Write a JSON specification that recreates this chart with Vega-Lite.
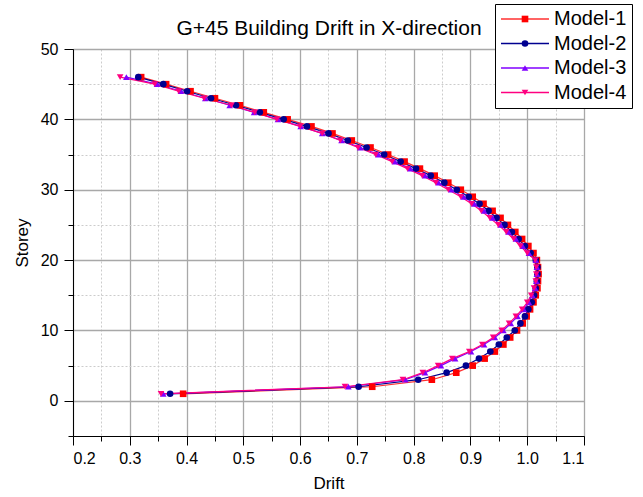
{
  "$schema": "https://vega.github.io/schema/vega-lite/v6.json",
  "autosize": "none",
  "padding": {"left": 73, "top": 49, "right": 59, "bottom": 61},
  "width": 511,
  "height": 387,
  "background": "white",
  "config": {
    "font": "Liberation Sans",
    "view": {"stroke": "black", "strokeWidth": 1},
    "axis": {"domainColor": "black", "tickColor": "black", "labelColor": "black", "titleColor": "black", "labelFontWeight": "normal", "titleFontWeight": "normal"}
  },
  "data": {"values": [
    {"m":"Model-1","s":1,"d":0.394},{"m":"Model-1","s":2,"d":0.727},{"m":"Model-1","s":3,"d":0.832},{"m":"Model-1","s":4,"d":0.875},{"m":"Model-1","s":5,"d":0.904},{"m":"Model-1","s":6,"d":0.925},{"m":"Model-1","s":7,"d":0.943},{"m":"Model-1","s":8,"d":0.958},{"m":"Model-1","s":9,"d":0.970},{"m":"Model-1","s":10,"d":0.982},{"m":"Model-1","s":11,"d":0.992},{"m":"Model-1","s":12,"d":0.999},{"m":"Model-1","s":13,"d":1.005},{"m":"Model-1","s":14,"d":1.011},{"m":"Model-1","s":15,"d":1.015},{"m":"Model-1","s":16,"d":1.018},{"m":"Model-1","s":17,"d":1.019},{"m":"Model-1","s":18,"d":1.020},{"m":"Model-1","s":19,"d":1.019},{"m":"Model-1","s":20,"d":1.017},{"m":"Model-1","s":21,"d":1.011},{"m":"Model-1","s":22,"d":1.002},{"m":"Model-1","s":23,"d":0.991},{"m":"Model-1","s":24,"d":0.979},{"m":"Model-1","s":25,"d":0.966},{"m":"Model-1","s":26,"d":0.953},{"m":"Model-1","s":27,"d":0.939},{"m":"Model-1","s":28,"d":0.923},{"m":"Model-1","s":29,"d":0.904},{"m":"Model-1","s":30,"d":0.883},{"m":"Model-1","s":31,"d":0.861},{"m":"Model-1","s":32,"d":0.837},{"m":"Model-1","s":33,"d":0.811},{"m":"Model-1","s":34,"d":0.784},{"m":"Model-1","s":35,"d":0.755},{"m":"Model-1","s":36,"d":0.724},{"m":"Model-1","s":37,"d":0.691},{"m":"Model-1","s":38,"d":0.657},{"m":"Model-1","s":39,"d":0.620},{"m":"Model-1","s":40,"d":0.578},{"m":"Model-1","s":41,"d":0.536},{"m":"Model-1","s":42,"d":0.494},{"m":"Model-1","s":43,"d":0.450},{"m":"Model-1","s":44,"d":0.407},{"m":"Model-1","s":45,"d":0.364},{"m":"Model-1","s":46,"d":0.320},
    {"m":"Model-2","s":1,"d":0.371},{"m":"Model-2","s":2,"d":0.703},{"m":"Model-2","s":3,"d":0.808},{"m":"Model-2","s":4,"d":0.858},{"m":"Model-2","s":5,"d":0.892},{"m":"Model-2","s":6,"d":0.915},{"m":"Model-2","s":7,"d":0.935},{"m":"Model-2","s":8,"d":0.950},{"m":"Model-2","s":9,"d":0.964},{"m":"Model-2","s":10,"d":0.978},{"m":"Model-2","s":11,"d":0.988},{"m":"Model-2","s":12,"d":0.996},{"m":"Model-2","s":13,"d":1.002},{"m":"Model-2","s":14,"d":1.008},{"m":"Model-2","s":15,"d":1.012},{"m":"Model-2","s":16,"d":1.015},{"m":"Model-2","s":17,"d":1.017},{"m":"Model-2","s":18,"d":1.018},{"m":"Model-2","s":19,"d":1.018},{"m":"Model-2","s":20,"d":1.015},{"m":"Model-2","s":21,"d":1.006},{"m":"Model-2","s":22,"d":0.996},{"m":"Model-2","s":23,"d":0.985},{"m":"Model-2","s":24,"d":0.973},{"m":"Model-2","s":25,"d":0.960},{"m":"Model-2","s":26,"d":0.946},{"m":"Model-2","s":27,"d":0.932},{"m":"Model-2","s":28,"d":0.916},{"m":"Model-2","s":29,"d":0.897},{"m":"Model-2","s":30,"d":0.876},{"m":"Model-2","s":31,"d":0.854},{"m":"Model-2","s":32,"d":0.830},{"m":"Model-2","s":33,"d":0.804},{"m":"Model-2","s":34,"d":0.777},{"m":"Model-2","s":35,"d":0.748},{"m":"Model-2","s":36,"d":0.717},{"m":"Model-2","s":37,"d":0.684},{"m":"Model-2","s":38,"d":0.650},{"m":"Model-2","s":39,"d":0.612},{"m":"Model-2","s":40,"d":0.571},{"m":"Model-2","s":41,"d":0.529},{"m":"Model-2","s":42,"d":0.487},{"m":"Model-2","s":43,"d":0.443},{"m":"Model-2","s":44,"d":0.401},{"m":"Model-2","s":45,"d":0.359},{"m":"Model-2","s":46,"d":0.315},
    {"m":"Model-3","s":1,"d":0.359},{"m":"Model-3","s":2,"d":0.685},{"m":"Model-3","s":3,"d":0.785},{"m":"Model-3","s":4,"d":0.820},{"m":"Model-3","s":5,"d":0.848},{"m":"Model-3","s":6,"d":0.873},{"m":"Model-3","s":7,"d":0.901},{"m":"Model-3","s":8,"d":0.924},{"m":"Model-3","s":9,"d":0.943},{"m":"Model-3","s":10,"d":0.958},{"m":"Model-3","s":11,"d":0.971},{"m":"Model-3","s":12,"d":0.983},{"m":"Model-3","s":13,"d":0.994},{"m":"Model-3","s":14,"d":1.003},{"m":"Model-3","s":15,"d":1.009},{"m":"Model-3","s":16,"d":1.014},{"m":"Model-3","s":17,"d":1.016},{"m":"Model-3","s":18,"d":1.017},{"m":"Model-3","s":19,"d":1.017},{"m":"Model-3","s":20,"d":1.015},{"m":"Model-3","s":21,"d":1.003},{"m":"Model-3","s":22,"d":0.992},{"m":"Model-3","s":23,"d":0.980},{"m":"Model-3","s":24,"d":0.967},{"m":"Model-3","s":25,"d":0.953},{"m":"Model-3","s":26,"d":0.939},{"m":"Model-3","s":27,"d":0.924},{"m":"Model-3","s":28,"d":0.907},{"m":"Model-3","s":29,"d":0.888},{"m":"Model-3","s":30,"d":0.866},{"m":"Model-3","s":31,"d":0.844},{"m":"Model-3","s":32,"d":0.820},{"m":"Model-3","s":33,"d":0.794},{"m":"Model-3","s":34,"d":0.767},{"m":"Model-3","s":35,"d":0.738},{"m":"Model-3","s":36,"d":0.706},{"m":"Model-3","s":37,"d":0.673},{"m":"Model-3","s":38,"d":0.639},{"m":"Model-3","s":39,"d":0.601},{"m":"Model-3","s":40,"d":0.561},{"m":"Model-3","s":41,"d":0.519},{"m":"Model-3","s":42,"d":0.476},{"m":"Model-3","s":43,"d":0.433},{"m":"Model-3","s":44,"d":0.390},{"m":"Model-3","s":45,"d":0.348},{"m":"Model-3","s":46,"d":0.294},
    {"m":"Model-4","s":1,"d":0.355},{"m":"Model-4","s":2,"d":0.679},{"m":"Model-4","s":3,"d":0.781},{"m":"Model-4","s":4,"d":0.816},{"m":"Model-4","s":5,"d":0.843},{"m":"Model-4","s":6,"d":0.868},{"m":"Model-4","s":7,"d":0.898},{"m":"Model-4","s":8,"d":0.921},{"m":"Model-4","s":9,"d":0.940},{"m":"Model-4","s":10,"d":0.955},{"m":"Model-4","s":11,"d":0.968},{"m":"Model-4","s":12,"d":0.980},{"m":"Model-4","s":13,"d":0.991},{"m":"Model-4","s":14,"d":1.000},{"m":"Model-4","s":15,"d":1.007},{"m":"Model-4","s":16,"d":1.012},{"m":"Model-4","s":17,"d":1.015},{"m":"Model-4","s":18,"d":1.016},{"m":"Model-4","s":19,"d":1.016},{"m":"Model-4","s":20,"d":1.014},{"m":"Model-4","s":21,"d":1.000},{"m":"Model-4","s":22,"d":0.988},{"m":"Model-4","s":23,"d":0.976},{"m":"Model-4","s":24,"d":0.963},{"m":"Model-4","s":25,"d":0.949},{"m":"Model-4","s":26,"d":0.934},{"m":"Model-4","s":27,"d":0.919},{"m":"Model-4","s":28,"d":0.902},{"m":"Model-4","s":29,"d":0.883},{"m":"Model-4","s":30,"d":0.861},{"m":"Model-4","s":31,"d":0.839},{"m":"Model-4","s":32,"d":0.815},{"m":"Model-4","s":33,"d":0.789},{"m":"Model-4","s":34,"d":0.762},{"m":"Model-4","s":35,"d":0.733},{"m":"Model-4","s":36,"d":0.702},{"m":"Model-4","s":37,"d":0.671},{"m":"Model-4","s":38,"d":0.639},{"m":"Model-4","s":39,"d":0.600},{"m":"Model-4","s":40,"d":0.559},{"m":"Model-4","s":41,"d":0.520},{"m":"Model-4","s":42,"d":0.479},{"m":"Model-4","s":43,"d":0.431},{"m":"Model-4","s":44,"d":0.386},{"m":"Model-4","s":45,"d":0.344},{"m":"Model-4","s":46,"d":0.283}
  ]},
  "encoding": {
    "x": {"field": "d", "type": "quantitative",
      "scale": {"domain": [0.2, 1.1], "nice": false, "zero": false},
      "axis": {"orient": "bottom", "title": "Drift", "titleFontSize": 17, "titlePadding": 9, "labelFontSize": 16, "labelPadding": 5,
        "values": [0.2,0.25,0.3,0.35,0.4,0.45,0.5,0.55,0.6,0.65,0.7,0.75,0.8,0.85,0.9,0.95,1.0,1.05,1.1],
        "labelExpr": "abs(datum.value*10 - round(datum.value*10)) < 0.01 ? format(datum.value, '.1f') : ''",
        "grid": true,
        "gridColor": {"condition": {"test": "abs(datum.value*10 - round(datum.value*10)) > 0.01", "value": "#cccccc"}, "value": "#a8a8a8"},
        "gridDash": {"condition": {"test": "abs(datum.value*10 - round(datum.value*10)) > 0.01", "value": [2, 2]}, "value": []},
        "gridWidth": {"condition": {"test": "abs(datum.value*10 - round(datum.value*10)) > 0.01", "value": 1}, "value": 1.3},
        "tickSize": {"condition": {"test": "abs(datum.value*10 - round(datum.value*10)) > 0.01", "value": 5}, "value": 9}
      }},
    "y": {"field": "s", "type": "quantitative",
      "scale": {"domain": [-5, 50], "nice": false, "zero": false},
      "axis": {"title": "Storey", "titleFontSize": 17, "titlePadding": 9, "labelFontSize": 16, "labelPadding": 6,
        "values": [-5,0,5,10,15,20,25,30,35,40,45,50],
        "labelExpr": "datum.value % 10 === 0 ? datum.label : ''",
        "grid": true,
        "gridColor": {"condition": {"test": "datum.value % 10 !== 0", "value": "#cccccc"}, "value": "#a8a8a8"},
        "gridDash": {"condition": {"test": "datum.value % 10 !== 0", "value": [2, 2]}, "value": []},
        "gridWidth": {"condition": {"test": "datum.value % 10 !== 0", "value": 1}, "value": 1.3},
        "tickSize": {"condition": {"test": "datum.value % 10 !== 0", "value": 5}, "value": 9}
      }}
  },
  "layer": [
    {"mark": {"type": "line", "strokeWidth": 1.2},
     "encoding": {
       "order": {"field": "s", "type": "quantitative"},
       "color": {"field": "m", "type": "nominal",
         "scale": {"range": ["#ff3030", "#000090", "#8000ff", "#ff0080"]},
         "legend": {"title": null, "orient": "none", "legendX": 422, "legendY": -45,
           "strokeColor": "black", "fillColor": "white", "padding": 5,
           "labelFontSize": 20, "labelColor": "black", "labelOffset": 4,
           "symbolType": "stroke", "symbolSize": 2304, "symbolStrokeWidth": 1.5,
           "clipHeight": 20, "rowPadding": 4.5}}}},
    {"mark": {"type": "point", "filled": true, "opacity": 1, "strokeWidth": 0, "size": 44},
     "encoding": {
       "x": {"field": "d", "type": "quantitative",
         "scale": {"domain": [0.2, 1.1], "nice": false, "zero": false},
         "axis": {"orient": "top", "title": "G+45 Building Drift in X-direction", "titleFontSize": 21, "titleFontWeight": "normal", "titlePadding": 11,
           "labels": false, "ticks": false, "domain": false, "grid": false}},
       "fill": {"field": "m", "type": "nominal",
         "scale": {"domain": ["Model-1", "Model-2", "Model-3", "Model-4"], "range": ["#ff0000", "#000090", "#8000ff", "#ff0080"]},
         "legend": {"title": null, "orient": "none", "legendX": 422, "legendY": -45,
           "padding": 5, "labelFontSize": 20, "labelOpacity": 0, "labelExpr": "' '", "labelOffset": 4,
           "symbolSize": 44, "symbolOffset": 15, "symbolOpacity": 1, "symbolStrokeWidth": 0, "rowPadding": 4.5}},
       "shape": {"field": "m", "type": "nominal",
         "scale": {"domain": ["Model-1", "Model-2", "Model-3", "Model-4"], "range": ["square", "circle", "triangle-up", "triangle-down"]},
         "legend": {"title": null, "orient": "none", "legendX": 422, "legendY": -45,
           "padding": 5, "labelFontSize": 20, "labelOpacity": 0, "labelExpr": "' '", "labelOffset": 4,
           "symbolSize": 44, "symbolOffset": 15, "symbolOpacity": 1, "symbolStrokeWidth": 0, "rowPadding": 4.5}}
     }}
  ]
}
